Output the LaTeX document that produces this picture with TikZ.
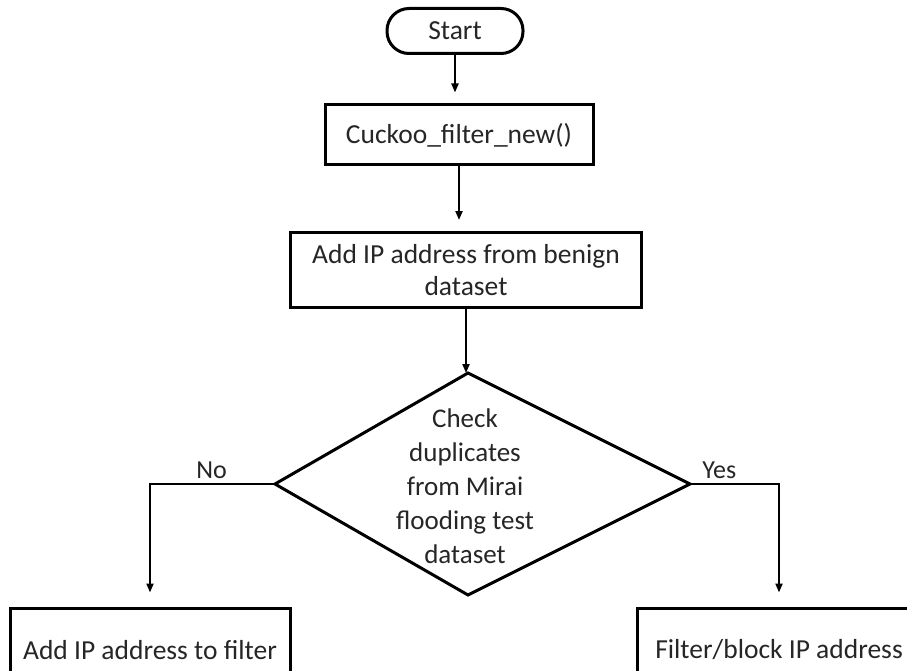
\documentclass[tikz,border=0pt]{standalone}
\usepackage{fontspec}
\setmainfont{Carlito}
\usetikzlibrary{arrows.meta,shapes.geometric}
\definecolor{txt}{HTML}{262626}
\begin{document}
\begin{tikzpicture}[x=1pt,y=-1pt,
  every node/.style={font=\fontsize{27.5}{32}\selectfont,text=txt,inner sep=0pt},
  boxstyle/.style={draw=black,line width=3pt,align=center},
  conn/.style={line width=2pt,-{Triangle[width=7pt,length=9pt]}},
  lbl/.style={font=\fontsize{26}{30}\selectfont}]
\clip (0,0) rectangle (907,671);
\fill[white] (0,0) rectangle (907,671);
% nodes
\node[boxstyle,rounded corners=22pt,minimum width=136pt,minimum height=45pt] (start) at (455,31) {Start};
\node[boxstyle,minimum width=268pt,minimum height=60pt] (cuckoo) at (459,135) {Cuckoo\_filter\_new()};
\node[boxstyle,minimum width=351pt,minimum height=75pt] (add) at (466,270) {Add IP address from benign\\dataset};
% decision diamond
\coordinate (dtop) at (468,373);
\coordinate (dright) at (690,484);
\coordinate (dbot) at (468,595);
\coordinate (dleft) at (275,484);
\draw[line width=3pt,line join=miter] (dtop) -- (dright) -- (dbot) -- (dleft) -- cycle;
\node[align=center,font=\fontsize{27}{34}\selectfont] (dtext) at (465,486) {Check\\duplicates\\from Mirai\\flooding test\\dataset};
\node[boxstyle,minimum width=280pt,minimum height=84pt] (addf) at (150,650) {Add IP address to filter};
\node[boxstyle,minimum width=284pt,minimum height=84pt] (block) at (779,650) {Filter/block IP address};
% connectors
\draw[conn,shorten >=11pt] (start.south) -- (start.south |- cuckoo.north);
\draw[conn,shorten >=11pt] (cuckoo.south) -- (cuckoo.south |- add.north);
\draw[conn] (add.south) -- (add.south |- dtop);
\draw[conn,shorten >=14pt] (dleft) -| node[lbl,pos=0.254,above=4pt] (no) {No} (addf.north);
\draw[conn,shorten >=14pt] (dright) -| node[lbl,pos=0.165,above=4pt] (yes) {Yes} (block.north);
\end{tikzpicture}
\end{document}
